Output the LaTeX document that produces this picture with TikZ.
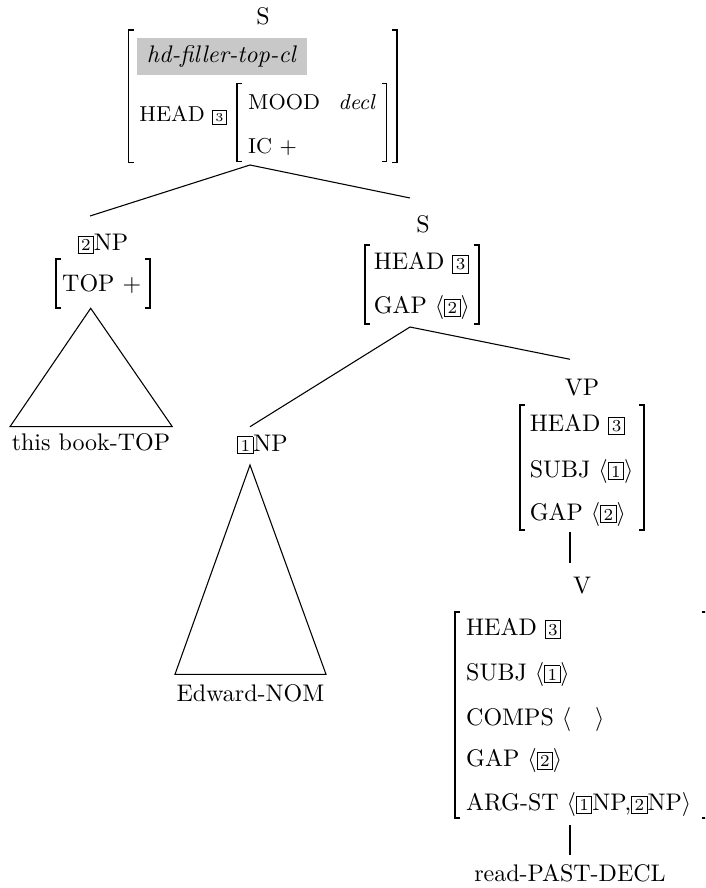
\documentclass[10pt,tikz,border=0pt]{standalone}
\usepackage{xcolor}
\definecolor{avmgray}{RGB}{200,200,200}
% boxed structure-sharing tags
\newcommand{\tagbox}[1]{{\setlength{\fboxsep}{1pt}\fbox{\scriptsize #1}}}
\newcommand{\tagboxsm}[1]{{\setlength{\fboxsep}{0.9pt}\fbox{\tiny #1}}}
\newcommand{\lang}{$\langle$}
\newcommand{\rang}{$\rangle$}
\tikzset{
  lbl/.style={inner sep=0pt, anchor=base},
  row/.style={inner sep=0pt, anchor=base west},
  brk/.style={line width=0.7pt},
  branch/.style={line width=0.45pt},
}
% square brackets of a feature structure: left x, top y, right x, bottom y
\newcommand{\avmbrackets}[4]{%
  \draw[brk] (#1+5,#2) -- (#1,#2) -- (#1,#4) -- (#1+5,#4);
  \draw[brk] (#3-5,#2) -- (#3,#2) -- (#3,#4) -- (#3-5,#4);}
\begin{document}
\begin{tikzpicture}[x=0.41667pt,y=-0.41667pt]
\clip (0,0) rectangle (705,888);

% ---- root clause ----
\node[lbl] (sTop) at (263,25) {S};
\node[fill=avmgray, inner sep=0pt, minimum width=70.8pt, minimum height=15.4pt, anchor=north west] (typBox) at (137,37.5) {};
\node[row] (typ) at (146.5,63) {\textit{hd-filler-top-cl}};
\node[row] (topHead) at (139,121.5) {\small HEAD \tagboxsm{3}};
\node[row] (topMood) at (247.7,109.5) {\small MOOD};
\node[row] (topDecl) at (338,109.5) {\small\textit{decl}};
\node[row] (topIc) at (247.7,154) {\small IC +};
\avmbrackets{128.5}{30}{397}{162.5}
\avmbrackets{237}{83.5}{386.5}{161.5}
\coordinate (sTopFoot) at (250,165);

% ---- topicalized filler ----
\node[lbl] (npTwo) at (103,251) {\tagbox{2}NP};
\coordinate (npTwoTop) at (90,216);
\node[row] (npTwoTopF) at (61.7,291.7) {TOP +};
\avmbrackets{56}{259}{150}{307.7}
\coordinate (triAApex) at (90.7,308.3);
\coordinate (triALeft) at (10,426.7);
\coordinate (triARight) at (172.3,426.7);
\draw[branch] (triAApex) -- (triALeft) -- (triARight) -- cycle;
\node[lbl] (thisBook) at (91,450) {this book-TOP};

% ---- head daughter S ----
\node[lbl] (sMid) at (423,233) {S};
\coordinate (sMidTop) at (410,198);
\node[row] (sMidHead) at (373.3,270) {HEAD \tagbox{3}};
\node[row] (sMidGap) at (373.3,313.3) {GAP \lang\tagbox{2}\rang};
\avmbrackets{365}{245}{479.3}{324}
\coordinate (sMidFoot) at (410,327);

\draw[branch] (sTopFoot) -- (npTwoTop);
\draw[branch] (sTopFoot) -- (sMidTop);

% ---- subject ----
\node[lbl] (npOne) at (262.5,451) {\tagbox{1}NP};
\coordinate (npOneTop) at (250,426.7);
\coordinate (triBApex) at (250,465);
\coordinate (triBLeft) at (175,674.3);
\coordinate (triBRight) at (326,674.3);
\draw[branch] (triBApex) -- (triBLeft) -- (triBRight) -- cycle;
\node[lbl] (edward) at (250.5,701.7) {Edward-NOM};

% ---- VP ----
\node[lbl] (vp) at (582,395) {VP};
\coordinate (vpTop) at (570,359.3);
\node[row] (vpHead) at (529.3,431.7) {HEAD \tagbox{3}};
\node[row] (vpSubj) at (529.3,477) {SUBJ \lang\tagbox{1}\rang};
\node[row] (vpGap) at (529.3,520) {GAP \lang\tagbox{2}\rang};
\avmbrackets{520}{405}{644}{530}
\coordinate (vpFoot) at (570,531.7);
\coordinate (vTop) at (570,563.3);

\draw[branch] (sMidFoot) -- (npOneTop);
\draw[branch] (sMidFoot) -- (vpTop);
\draw[branch] (vpFoot) -- (vTop);

% ---- verb ----
\node[lbl] (v) at (582,593.3) {V};
\node[row] (vHead) at (465.7,635) {HEAD \tagbox{3}};
\node[row] (vSubj) at (465.7,680) {SUBJ \lang\tagbox{1}\rang};
\node[row] (vComps) at (465.7,725) {COMPS \lang\hspace{10pt}\rang};
\node[row] (vGap) at (465.7,766.7) {GAP \lang\tagbox{2}\rang};
\node[row] (vArg) at (465.7,810.7) {ARG-ST \lang\tagbox{1}NP,\tagbox{2}NP\rang};
\avmbrackets{455}{611.7}{706.5}{818}
\coordinate (vFoot) at (570,825);
\coordinate (wordTop) at (570,855);
\draw[branch] (vFoot) -- (wordTop);
\node[lbl] (word) at (570,881.7) {read-PAST-DECL};
\end{tikzpicture}
\end{document}
